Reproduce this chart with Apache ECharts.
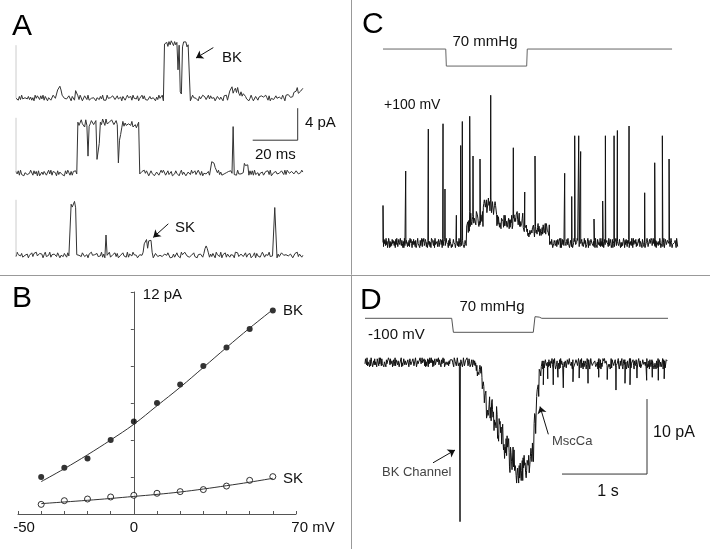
<!DOCTYPE html>
<html><head><meta charset="utf-8">
<script src="https://cdn.jsdelivr.net/npm/echarts/dist/echarts.min.js"></script>
<style>html,body{margin:0;padding:0;background:#fff}#c{width:710px;height:549px}</style>
</head><body><div id="c"></div>
<script>
// ---------- Panel A: single-channel traces (time in ms, current in pA) ----------
// segments: [start ms, end ms, level pA, noise amplitude pA]
const aTimeStep = 0.5;
const traceA1Segments = [
  [0, 18.5, 0, 0.35], [18.5, 20.5, 1.2, 0.35], [20.5, 26.5, 0, 0.35], [26.5, 27.5, 0.9, 0.2],
  [27.5, 66, 0, 0.35], [66, 72, 6.8, 0.45], [72, 72.5, 3.5, 0.2], [72.5, 73, 6.3, 0.3],
  [73, 74, 0.8, 0.3], [74, 77.5, 6.7, 0.4], [77.5, 95, 0, 0.35], [95, 99, 1.0, 0.4],
  [99, 102, 0.5, 0.35], [102, 120, 0, 0.35], [120, 124, 0.3, 0.4], [124, 128, 0.9, 0.4]
];
const traceA2Segments = [
  [0, 27.5, 0, 0.35], [27.5, 32, 6.2, 0.45], [32, 32.5, 2.0, 0.2], [32.5, 36, 6.2, 0.45],
  [36, 37, 1.6, 0.3], [37, 37.5, 4.0, 0.3], [37.5, 45.5, 6.3, 0.45], [45.5, 46, 1.2, 0.2],
  [46, 47, 4.5, 0.4], [47, 55, 6.0, 0.45], [55, 87, 0, 0.35], [87, 89.5, 1.1, 0.4],
  [89.5, 96.5, 0, 0.35], [96.5, 97, 5.8, 0], [97, 101.5, 0, 0.35], [101.5, 103.5, 0.8, 0.4],
  [103.5, 128, 0, 0.35]
];
const traceA3Segments = [
  [0, 24.5, 0, 0.35], [24.5, 27, 6.3, 0.4], [27, 40, 0, 0.35], [40, 40.5, 2.5, 0],
  [40.5, 57, 0, 0.35], [57, 58.5, 1.7, 0.3], [58.5, 59, 1.0, 0.2], [59, 60.5, 1.6, 0.3],
  [60.5, 84, 0, 0.35], [84, 85.5, 0.9, 0.3], [85.5, 115, 0, 0.35], [115, 116, 6.0, 0.2],
  [116, 128, 0, 0.35]
];
const noiseA1 = `4617293058 3726150948 6283917405 5139746208 2974631850 7415382960 3862910475 6058273914 1947538620 8326074159
5271946380 4693825107 3158062947 9042617385 2736594018 6814203957 4507319862 1938465027 7263085914 3590471862
8152736049 4027916385 6395180472 2841673950 5768203914 9134587026 3620947158 7483615920 1597038264 4862059173`;
const noiseA2 = `7381924056 2549618370 8036275149 3917450826 6240839517 1758362094 5092714863 4863052971 9315486207 2608193745
6749205138 3175948602 8420367159 5961482370 1384705926 7036529418 2598170463 4713896025 9261034587 6847251930
3059647182 8192350476 1476829035 5730418629 2964175308 8305962741 4627381059 9518027364 3846159207 7029463815`;
const noiseA3 = `2958371046 6041827593 3786059214 9153642870 4627918305 1390574628 8215063947 5872439160 3469105782 7024683519
1683957402 5349028176 8901762345 2567489031 6148320957 9735104682 4052691738 3816274095 7290538164 1564097823
6923815470 2480736159 8157492036 3706258941 5831690274 9268143507 1045387629 6379524018 4793061852 8512679403`;
const aStartMarkTops = [6.6, 6.9, 6.9];
const aArrowBK = [[87.7, 6.3], [80, 5.0]];
const aArrowSK = [[67.7, 3.9], [61, 2.2]];
const aScaleBar = [[105.2, 4.1], [125.2, 4.1], [125.2, 8.1]];

// ---------- Panel B: I-V relation ----------
const ivVoltages = [-40, -30, -20, -10, 0, 10, 20, 30, 40, 50, 60];
const bkCurrents = [2.0, 2.5, 3.0, 4.0, 5.0, 6.0, 7.0, 8.0, 9.0, 10.0, 11.0];
const skCurrents = [0.52, 0.72, 0.81, 0.92, 1.01, 1.12, 1.21, 1.32, 1.51, 1.82, 2.02];
const bkFit = [1.75, 2.45, 3.2, 4.0, 4.85, 5.85, 6.85, 7.92, 9.0, 10.05, 11.05];
const skFit = [0.56, 0.65, 0.74, 0.84, 0.95, 1.06, 1.19, 1.35, 1.53, 1.72, 1.93];
const bXLabels = { '-50': '-50', '0': '0', '70': '70 mV' };

// ---------- Panel C: +100 mV, 70 mmHg suction (time s, current pA) ----------
const cTimeStep = 0.006;
const cPressure = [[0, 0], [0.738, 0], [0.745, -70], [1.69, -70], [1.697, 0], [3.40, 0]];
const cSegments = [
  [0, 0.985, 0, 0.62], [0.985, 1.02, 2.2, 0.8], [1.02, 1.18, 3.2, 1.0], [1.18, 1.34, 4.9, 1.1],
  [1.34, 1.53, 2.8, 0.9], [1.53, 1.65, 3.2, 1.0], [1.65, 1.80, 1.6, 0.8], [1.80, 1.96, 1.8, 0.8],
  [1.96, 3.47, 0, 0.62]
];
const cSpikes = [
  [0.0, 5.0], [0.267, 9.6], [0.533, 15.2], [0.706, 15.9], [0.729, 7.2], [0.863, 3.7], [0.914, 13.0],
  [0.933, 16.2], [1.02, 16.9], [1.059, 11.6], [1.141, 11.2], [1.267, 19.7], [1.533, 12.7],
  [1.667, 6.8], [1.788, 11.6], [2.137, 9.3], [2.22, 6.2], [2.255, 14.3], [2.302, 14.3], [2.325, 12.2],
  [2.482, 3.2], [2.584, 5.6], [2.616, 14.3], [2.718, 14.3], [2.757, 15.0], [2.894, 15.6],
  [3.078, 6.7], [3.196, 10.7], [3.286, 14.3], [3.365, 11.2]
];
const noiseC = `5184729360 3970615284 7426083951 1853962740 6092347815 2719584063 8361702594 4507239186 9248615037 3615098742
7093426158 1548370926 6821954307 2967031485 5304782619 8156297340 3742568091 9083146725 4619875203 1275390468
6438120957 2891476035 7560293841 4307865192 9825134706 1649028573 5376941280 3012587649 8794613025 2153769408
8241693705 5036187249 1974520836 6389014752 4712836590 9058372164 2683945017 7140259683 3597861024 6825139470
1369074258 8452617093 4087352916 2916048375 7531926840 3804715692 9672483051 5219607384 1748053629 6093274815
2485916730 8731502469 5106843972 3948217065 7263950148 1590486327 6847129503 4325760981 9016538247 2751893406`;

// ---------- Panel D: -100 mV, 70 mmHg suction (time s, current pA) ----------
const dTimeStep = 0.006;
const dPressure = [[0, 0], [1.02, 0], [1.04, -70], [1.98, -70], [2.0, 8], [2.05, 6], [2.08, 0], [3.565, 0]];
const dSegments = [
  [0, 1.31, 0, 0.6], [1.31, 1.38, -1.2, 0.8], [1.38, 1.43, -4.0, 1.4], [1.43, 1.50, -6.2, 1.6],
  [1.50, 1.56, -7.5, 1.6], [1.56, 1.63, -9.2, 1.7], [1.63, 1.70, -11.5, 1.7], [1.70, 1.76, -13.0, 1.7],
  [1.76, 1.86, -14.6, 1.5], [1.86, 1.94, -13.9, 1.5], [1.94, 1.99, -12.0, 1.6], [1.99, 2.02, -8.0, 1.5],
  [2.02, 2.05, -4.0, 1.0], [2.05, 2.08, -1.2, 0.8], [2.08, 3.565, -0.2, 0.7]
];
const dSpikes = [
  [1.118, -21.25], [2.098, -3.0], [2.15, -2.2], [2.215, -3.0], [2.27, -2.0], [2.333, -3.4], [2.447, -2.6],
  [2.52, -2.1], [2.624, -2.8], [2.75, -2.0], [2.85, -2.3], [2.953, -3.7], [3.059, -2.8], [3.118, -3.0],
  [3.2, -2.1], [3.314, -2.4], [3.38, -2.0], [3.451, -2.4], [3.52, -2.2]
];
const noiseD = `3862915740 7195403628 2540876193 9618324057 4073519862 8326047159 1789265034 5904138726 6231790485 2457861309
8016342597 3694258170 5128073946 9470615823 1853927460 7369480215 4205163798 6742098531 2981346075 5039712684
9614850237 3078261459 1452697380 6897034512 4236915078 8570423196 2319784605 7046153829 5683209741 1928576304
6307284159 1849562037 7592036418 3148709265 9265418370 4710893526 2836175940 8593024761 5081947632 3627510894
7954362081 1206875349 6438192507 2375049618 8019673254 5742316089 3180524976 9567830142 4029186735 6813457920
1736920584 8460273159 2915648307 5384017962 7102589436 3659142708 9248763015 4071395862 6523908471 1897054236`;
const dArrowBK = [[0.8, -13.4], [1.059, -11.7]];
const dArrowMscCa = [[2.157, -9.6], [2.059, -5.9]];
const dScaleBar = [[2.318, -14.9], [3.318, -14.9], [3.318, -4.9]];

// ---------- helpers ----------
function sample(segments, dt, noise) {
  const s = noise.replace(/\s+/g, '');
  const out = [];
  let k = 0;
  for (const [t0, t1, level, amp] of segments) {
    const n = Math.max(1, Math.round((t1 - t0) / dt));
    for (let i = 0; i < n; i++) {
      const d = (s.charCodeAt(k++ % s.length) - 52.5) / 4.5;
      out.push([+(t0 + i * dt).toFixed(5), level + d * amp]);
    }
  }
  return out;
}
function withSpikes(points, spikes) {
  return points.concat(spikes.map(p => [p[0], p[1]])).sort((a, b) => a[0] - b[0]);
}
const FONT = 'Liberation Sans, Arial, Helvetica, sans-serif';
function arrow(pts) {
  return {
    silent: true, symbol: ['none', 'arrow'], symbolSize: 7,
    lineStyle: { color: '#111', width: 1, type: 'solid' },
    label: { show: false }, emphasis: { disabled: true },
    data: [[{ coord: pts[0] }, { coord: pts[1] }]]
  };
}
function trace(xi, data, color, extra) {
  return Object.assign({
    type: 'line', xAxisIndex: xi, yAxisIndex: xi, data, symbol: 'none', showSymbol: false,
    lineStyle: { color, width: 1 }, silent: true, animation: false
  }, extra || {});
}
function hiddenX(gi, min, max) { return { type: 'value', gridIndex: gi, min, max, show: false }; }
function hiddenY(gi, min, max) { return { type: 'value', gridIndex: gi, min, max, show: false }; }
function txt(text, x, y, size, opt) {
  return {
    type: 'text', x, y, silent: true,
    style: Object.assign({ text, fontSize: size, fontFamily: FONT, fill: '#111', verticalAlign: 'middle', align: 'left' }, opt || {})
  };
}

const traceA1 = sample(traceA1Segments, aTimeStep, noiseA1);
const traceA2 = sample(traceA2Segments, aTimeStep, noiseA2);
const traceA3 = sample(traceA3Segments, aTimeStep, noiseA3);
const traceC = withSpikes(sample(cSegments, cTimeStep, noiseC), cSpikes);
const traceD = withSpikes(sample(dSegments, dTimeStep, noiseD), dSpikes);

const chart = echarts.init(document.getElementById('c'), null, { renderer: 'canvas' });
chart.setOption({
  animation: false,
  backgroundColor: '#fff',
  grid: [
    { left: 16, top: 34, width: 288, height: 80 },
    { left: 16, top: 101, width: 288, height: 88 },
    { left: 16, top: 191, width: 288, height: 80 },
    { left: 18, top: 292, width: 278, height: 222 },
    { left: 383, top: 46.6, width: 295, height: 21.9 },
    { left: 383, top: 78, width: 295, height: 180 },
    { left: 365, top: 316.3, width: 303, height: 18 },
    { left: 365, top: 347.3, width: 303, height: 187.5 }
  ],
  xAxis: [
    hiddenX(0, 0, 128), hiddenX(1, 0, 128), hiddenX(2, 0, 128),
    {
      type: 'value', gridIndex: 3, min: -50, max: 70, interval: 10,
      axisLine: { show: true, onZero: false, lineStyle: { color: '#555', width: 1 } },
      axisTick: { show: true, inside: true, length: 3, lineStyle: { color: '#555' } },
      splitLine: { show: false },
      axisLabel: {
        interval: 0, margin: 6, fontSize: 15, color: '#111', fontFamily: FONT,
        formatter: v => {
          const l = bXLabels[String(v)];
          if (!l) return '';
          if (v === -50) return '{l|' + l + '}';
          if (v === 70) return '{r|' + l + '}';
          return l;
        },
        rich: {
          l: { padding: [0, 0, 0, 12], fontSize: 15, color: '#111', fontFamily: FONT },
          r: { padding: [0, 0, 0, 34], fontSize: 15, color: '#111', fontFamily: FONT }
        }
      }
    },
    hiddenX(4, 0, 3.47), hiddenX(5, 0, 3.47), hiddenX(6, 0, 3.565), hiddenX(7, 0, 3.565)
  ],
  yAxis: [
    hiddenY(0, -2, 8), hiddenY(1, -2, 9), hiddenY(2, -2, 8),
    {
      type: 'value', gridIndex: 3, min: 0, max: 12, interval: 2,
      axisLine: { show: true, onZero: true, lineStyle: { color: '#555', width: 1 } },
      axisTick: { show: true, inside: false, length: 3, lineStyle: { color: '#555' } },
      axisLabel: { show: false }, splitLine: { show: false },
      name: '12 pA', nameLocation: 'end', nameGap: -3,
      nameTextStyle: { align: 'left', verticalAlign: 'middle', padding: [0, 0, 0, 9], fontSize: 15, color: '#111', fontFamily: FONT }
    },
    hiddenY(4, -80, 10), hiddenY(5, -2, 22), hiddenY(6, -80, 10), hiddenY(7, -23, 2)
  ],
  series: [
    trace(0, traceA1, '#333', { markLine: arrow(aArrowBK) }),
    trace(0, [[0, 0], [0, aStartMarkTops[0]]], '#ccc'),
    trace(1, traceA2, '#333'),
    trace(1, [[0, 0], [0, aStartMarkTops[1]]], '#ccc'),
    trace(1, aScaleBar, '#333'),
    trace(2, traceA3, '#333', { markLine: arrow(aArrowSK) }),
    trace(2, [[0, 0], [0, aStartMarkTops[2]]], '#ccc'),
    trace(3, ivVoltages.map((v, i) => [v, bkFit[i]]), '#333', { smooth: 0.4 }),
    { type: 'scatter', xAxisIndex: 3, yAxisIndex: 3, data: ivVoltages.map((v, i) => [v, bkCurrents[i]]),
      symbol: 'circle', symbolSize: 6, itemStyle: { color: '#000' }, silent: true },
    trace(3, ivVoltages.map((v, i) => [v, skFit[i]]), '#333', { smooth: 0.4 }),
    { type: 'scatter', xAxisIndex: 3, yAxisIndex: 3, data: ivVoltages.map((v, i) => [v, skCurrents[i]]),
      symbol: 'circle', symbolSize: 6, itemStyle: { color: '#fff', borderColor: '#000', borderWidth: 1 }, silent: true },
    trace(4, cPressure, '#666'),
    trace(5, traceC, '#111'),
    trace(6, dPressure, '#555'),
    trace(7, traceD, '#111', { markLine: { ...arrow(dArrowBK), data: [[{ coord: dArrowBK[0] }, { coord: dArrowBK[1] }], [{ coord: dArrowMscCa[0] }, { coord: dArrowMscCa[1] }]] } }),
    trace(7, dScaleBar, '#333')
  ],
  graphic: [
    { type: 'line', silent: true, shape: { x1: 351.5, y1: 0, x2: 351.5, y2: 549 }, style: { stroke: '#999', lineWidth: 1 } },
    { type: 'line', silent: true, shape: { x1: 0, y1: 275.5, x2: 710, y2: 275.5 }, style: { stroke: '#999', lineWidth: 1 } },
    txt('A', 12, 27, 30, { fill: '#000' }),
    txt('B', 12, 299, 30, { fill: '#000' }),
    txt('C', 362, 25, 30, { fill: '#000' }),
    txt('D', 360, 301, 30, { fill: '#000' }),
    txt('BK', 222, 58, 15),
    txt('4 pA', 305, 123, 15),
    txt('20 ms', 255, 155, 15),
    txt('SK', 175, 228, 15),
    txt('BK', 283, 311, 15),
    txt('SK', 283, 479, 15),
    txt('70 mmHg', 485, 42, 15, { align: 'center' }),
    txt('+100 mV', 384, 105, 14),
    txt('70 mmHg', 492, 307, 15, { align: 'center' }),
    txt('-100 mV', 368, 335, 15),
    txt('BK Channel', 382, 472, 13, { fill: '#444' }),
    txt('MscCa', 552, 441, 13, { fill: '#444' }),
    txt('10 pA', 653, 433, 16),
    txt('1 s', 608, 492, 16, { align: 'center' })
  ]
});
</script></body></html>
